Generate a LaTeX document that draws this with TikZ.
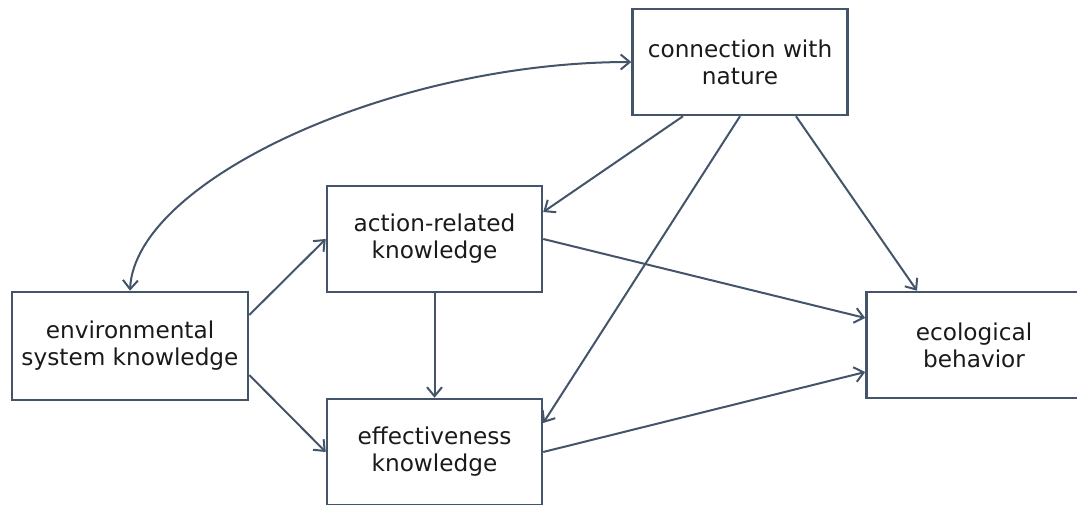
\documentclass[tikz,border=0pt]{standalone}
\usepackage{fontspec}
\setmainfont{DejaVu Sans}
\usetikzlibrary{arrows.meta}
\definecolor{slate}{RGB}{68,84,106}
\definecolor{ink}{RGB}{26,26,26}

\begin{document}
\begin{tikzpicture}[x=1pt,y=1pt,
    box/.style={draw=slate, line width=2.5pt, minimum width=215pt, minimum height=106pt,
      inner sep=0pt, align=center, text=ink, font=\fontsize{23.2}{27}\selectfont},
    link/.style={draw=slate, line width=2pt, -{Straight Barb[length=9pt,width=15pt]}}]
      \useasboundingbox (0,0) rectangle (1077,504);

      \node[box] (cnw) at (740,442) {connection with\\nature};
      \node[box] (act) at (434.5,265) {action-related\\knowledge};
      \node[box, minimum width=236pt, minimum height=108pt] (env) at (130,158) {environmental\\system knowledge};
      \node[box] (eff) at (434.5,52) {effectiveness\\knowledge};
      \node[box] (eco) at (974,159) {ecological\\behavior};

      \draw[link, {Straight Barb[length=9pt,width=15pt]}-{Straight Barb[length=9pt,width=15pt]}]
        (env.north) .. controls +(5,110) and +(-240,0) .. (cnw.west);
      \draw[link] ([xshift=-57pt]cnw.south) -- ([yshift=27pt]act.east);
      \draw[link] (cnw.south) -- ([yshift=29pt]eff.east);
      \draw[link] ([xshift=56pt]cnw.south) -- ([xshift=-57pt]eco.north);
      \draw[link] (act.east) -- ([yshift=27pt]eco.west);
      \draw[link] (eff.east) -- ([yshift=-27pt]eco.west);
      \draw[link] ([yshift=31pt]env.east) -- (act.west);
      \draw[link] ([yshift=-29pt]env.east) -- (eff.west);
      \draw[link] (act) -- (eff);
    \end{tikzpicture}
\end{document}
